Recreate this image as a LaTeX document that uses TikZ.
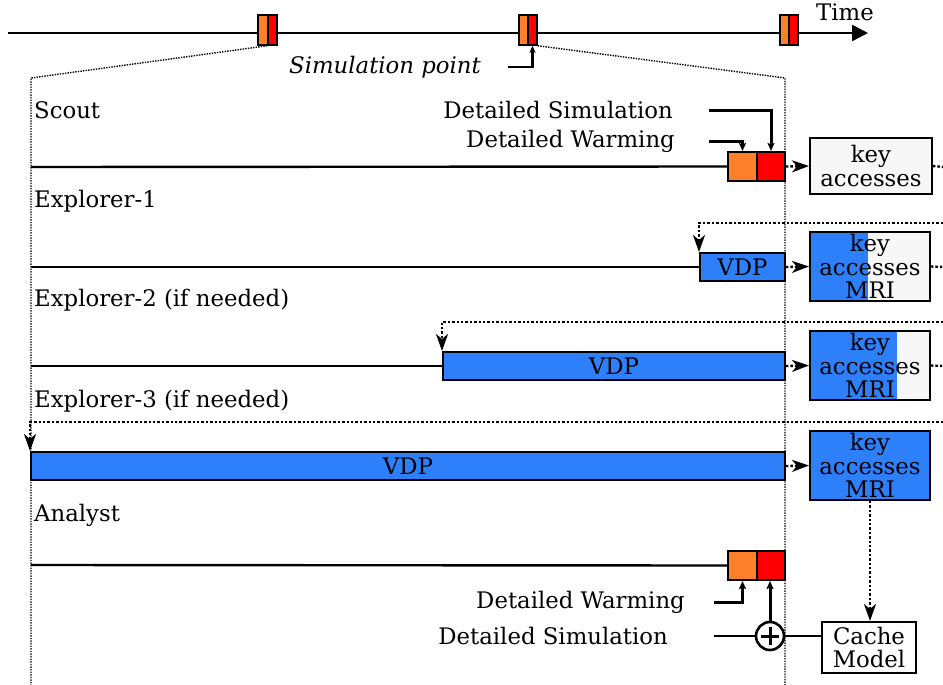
\documentclass[tikz,border=0pt]{standalone}
\usepackage{fontspec}
\setmainfont{DejaVu Serif}
\usetikzlibrary{arrows.meta}
\definecolor{vblue}{RGB}{45,127,250}
\definecolor{worange}{RGB}{255,128,42}
\definecolor{sred}{RGB}{255,0,0}
\definecolor{kgray}{RGB}{247,247,247}
\begin{document}
\begin{tikzpicture}[x=1pt,y=-1pt,
  every node/.append style={font=\fontsize{22.8pt}{23.5pt}\selectfont, inner sep=0pt},
  lane/.style={line width=2.4pt},
  ctl/.style={line width=3pt, -{Stealth[length=8pt,width=7pt,inset=1.5pt]}},
  funnel/.style={line width=1.4pt, dash pattern=on 1.4pt off 1.2pt},
  ret/.style={line width=2.4pt, dash pattern=on 2.4pt off 2pt},
  retarrow/.style={ret, -{Stealth[length=17pt,width=12pt,inset=5pt]}},
  outbox/.style={draw, line width=2pt, rectangle},
  wbox/.style={outbox, fill=worange, minimum width=29pt, minimum height=29pt},
  sbox/.style={outbox, fill=sred, minimum width=28pt, minimum height=29pt},
  mw/.style={outbox, line width=1.5pt, fill=worange, minimum width=10pt, minimum height=30pt},
  ms/.style={outbox, line width=1.5pt, fill=sred, minimum width=9pt, minimum height=30pt},
  vdp/.style={outbox, fill=vblue, minimum height=28pt},
  kbox/.style={outbox, fill=kgray, align=center, minimum width=120pt, minimum height=69pt},
  leftlabel/.style={anchor=west}
]
\useasboundingbox (0,0) rectangle (943,685);

% ---------- time line ----------
\coordinate (t0) at (8,33);
\coordinate (t1) at (868,33);
\draw[line width=2.6pt, -{Triangle[length=16pt,width=16pt]}] (t0) -- (t1);
\node[anchor=base west] (time) at (816,21) {Time};

\node[mw] (m1w) at (263,30) {};
\node[ms] (m1r) at (272.5,30) {};
\node[mw] (m2w) at (524,30) {};
\node[ms] (m2r) at (532.5,30) {};
\node[mw] (m3w) at (785,30) {};
\node[ms] (m3r) at (793.5,30) {};

\coordinate (fl) at (31,78);
\coordinate (flb) at (31,685);
\coordinate (fr) at (785,78);
\coordinate (frb) at (785,685);
\draw[funnel] (m1r.south west) -- (fl) -- (flb);
\draw[funnel] (m2r.south east) -- (fr) -- (frb);

\node[font=\fontsize{22.8pt}{23.5pt}\selectfont\itshape] (sp) at (385,67) {Simulation point};
\draw[line width=2.6pt, -{Stealth[length=7pt,width=6pt,inset=1.5pt]}] ([xshift=27pt]sp.east) -| (m2r.south);

% ---------- Scout ----------
\node[leftlabel] (scout) at (34,110) {Scout};
\node[wbox] (sw) at (742.5,166.5) {};
\node[sbox] (sd) at (771,166.5) {};
\coordinate (s0) at (31,167);
\draw[lane] (s0) -- (sw.west);
\node[anchor=east] (ds1) at (673,110) {Detailed Simulation};
\node[anchor=east] (dw1) at (675,141) {Detailed Warming};
\draw[ctl] ([xshift=36pt]ds1.east) -| (sd.north);
\draw[ctl] ([xshift=34pt]dw1.east) -| (sw.north);
\node[kbox, minimum width=122pt, minimum height=56pt] (k1) at (871,166) {key\\accesses};
\draw[retarrow] (sd.east) -- (k1.west);
\coordinate (k1e) at (943,167);
\draw[ret] (k1.east) -- (k1e);

% ---------- Explorer-1 ----------
\node[leftlabel] (e1) at (34,201) {Explorer-1};
\node[vdp, minimum width=85pt] (v1) at (742.5,267) {VDP};
\coordinate (e1s) at (31,267);
\draw[lane] (e1s) -- (v1.west);
\coordinate (r1) at (943,223);
\draw[retarrow] (r1) -| (v1.north west);
\node[kbox, path picture={\fill[vblue] (path picture bounding box.south west) rectangle ([xshift=58pt]path picture bounding box.north west);}] (k2) at (870,266.5) {key\\accesses\\MRI};
\draw[retarrow] (v1.east) -- (k2.west);
\coordinate (k2e) at (943,267);
\draw[ret] (k2.east) -- (k2e);

% ---------- Explorer-2 ----------
\node[leftlabel] (e2) at (34,300) {Explorer-2 (if needed)};
\node[vdp, minimum width=342pt] (v2) at (614,366) {VDP};
\coordinate (e2s) at (31,366);
\draw[lane] (e2s) -- (v2.west);
\coordinate (r2) at (943,322);
\draw[retarrow] (r2) -| (v2.north west);
\node[kbox, path picture={\fill[vblue] (path picture bounding box.south west) rectangle ([xshift=87pt]path picture bounding box.north west);}] (k3) at (870,365.5) {key\\accesses\\MRI};
\draw[retarrow] (v2.east) -- (k3.west);
\coordinate (k3e) at (943,366);
\draw[ret] (k3.east) -- (k3e);

% ---------- Explorer-3 ----------
\node[leftlabel] (e3) at (34,401) {Explorer-3 (if needed)};
\node[vdp, minimum width=754pt] (v3) at (408,466) {VDP};
\coordinate (r3) at (943,422);
\draw[retarrow] (r3) -| (v3.north west);
\node[kbox, fill=vblue] (k4) at (870,465.5) {key\\accesses\\MRI};
\draw[retarrow] (v3.east) -- (k4.west);

% ---------- Analyst ----------
\node[leftlabel] (an) at (34,515) {Analyst};
\node[wbox] (aw) at (742.5,565.5) {};
\node[sbox] (ad) at (771,565.5) {};
\coordinate (a0) at (31,565);
\draw[lane] (a0) -- (aw.west);
\node[anchor=east] (dw2) at (685,602) {Detailed Warming};
\node[anchor=east] (ds2) at (668,636) {Detailed Simulation};
\draw[ctl] ([xshift=29pt]dw2.east) -| (aw.south);
\node[circle, draw, line width=2.6pt, fill=white, minimum size=28pt,
  path picture={\draw[line width=3pt] ([xshift=-9pt]path picture bounding box.center) -- ([xshift=9pt]path picture bounding box.center);
                \draw[line width=3pt] ([yshift=-9pt]path picture bounding box.center) -- ([yshift=9pt]path picture bounding box.center);}] (op) at (770,636) {};
\draw[lane] ([xshift=46pt]ds2.east) -- (op.west);
\draw[ctl] (op.north) -- (op.north |- ad.south);
\node[outbox, align=center, minimum width=94pt, minimum height=51pt, fill=white] (cm) at (869,647.5) {Cache\\Model};
\draw[lane] (op.east) -- (op.east -| cm.west);
\draw[retarrow] (k4.south) -- (k4.south |- cm.north);
\end{tikzpicture}
\end{document}
